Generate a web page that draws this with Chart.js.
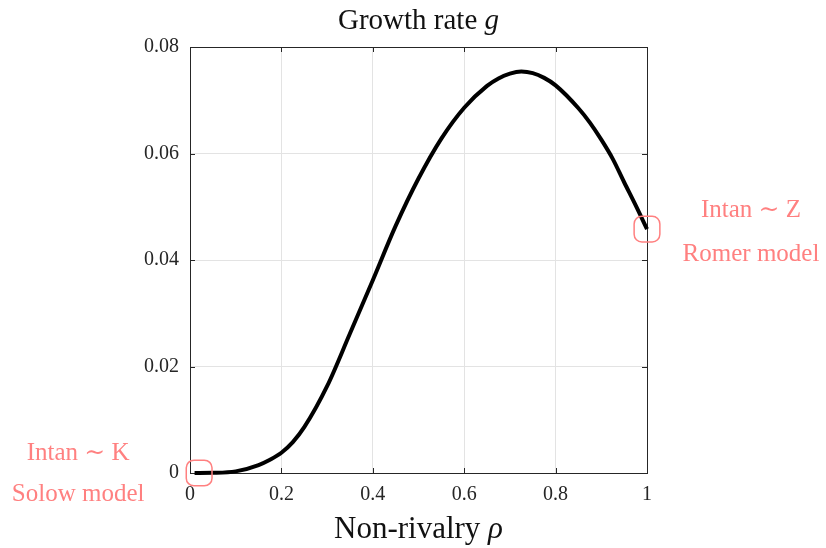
<!DOCTYPE html>
<html>
<head>
<meta charset="utf-8">
<title>Growth rate vs non-rivalry</title>
<script src="https://cdn.jsdelivr.net/npm/chart.js@4.4.1/dist/chart.umd.min.js"></script>
<style>
  html, body { margin: 0; padding: 0; background: #fff; }
  #wrap { width: 826px; height: 548px; }
</style>
</head>
<body>
<div id="wrap"><canvas id="growth"></canvas></div>
<script>
// growth rate g as a function of non-rivalry rho
const rho = [0.01, 0.05, 0.10, 0.15, 0.175, 0.20, 0.225, 0.25, 0.30, 0.35, 0.40, 0.45, 0.50, 0.55, 0.60,
             0.65, 0.675, 0.70, 0.725, 0.75, 0.775, 0.80, 0.85, 0.875, 0.90, 0.925, 0.95, 0.975, 1.00];
const growth = [0, 0.00003, 0.0003, 0.0015, 0.0025, 0.0038, 0.0058, 0.0086, 0.0163, 0.0262, 0.0362, 0.0464, 0.0553, 0.0628, 0.0686,
                0.0727, 0.0741, 0.0750, 0.0754, 0.0751, 0.0742, 0.0728, 0.0685, 0.0658, 0.0626, 0.0590, 0.0546, 0.0503, 0.0458];

// the two limiting cases that get highlighted
const caseRho = [0.02, 1.0];
const caseG = [0, 0.0458];
const caseLabels = [['Intan \u223C K', 'Solow model'], ['Intan \u223C Z', 'Romer model']];

const xTicks = [0, 0.2, 0.4, 0.6, 0.8, 1];
const yTicks = [0, 0.02, 0.04, 0.06, 0.08];

const SERIF = '"Liberation Serif", "DejaVu Serif", serif';
const PINK = '#ff8080';

const fmt = v => String(parseFloat(Number(v).toFixed(2)));

// box around the axes with small inward ticks, MATLAB style
const axesBox = {
  id: 'axesBox',
  beforeDatasetsDraw(chart) {
    const { ctx, chartArea: a, scales } = chart;
    ctx.save();
    ctx.strokeStyle = '#262626';
    ctx.lineWidth = 1;
    ctx.beginPath();
    xTicks.forEach(t => {
      const px = Math.round(scales.x.getPixelForValue(t)) + 0.5;
      ctx.moveTo(px, a.bottom); ctx.lineTo(px, a.bottom - 5);
      ctx.moveTo(px, a.top); ctx.lineTo(px, a.top + 5);
    });
    yTicks.forEach(t => {
      const py = Math.round(scales.y.getPixelForValue(t)) + 0.5;
      ctx.moveTo(a.left, py); ctx.lineTo(a.left + 5, py);
      ctx.moveTo(a.right, py); ctx.lineTo(a.right - 5, py);
    });
    ctx.stroke();
    ctx.strokeRect(Math.round(a.left) + 0.5, Math.round(a.top) + 0.5,
                   Math.round(a.right - a.left), Math.round(a.bottom - a.top));
    ctx.restore();
  },
  afterDraw(chart) {
    const { ctx, chartArea: a, scales } = chart;
    const cx = (a.left + a.right) / 2;
    ctx.save();
    ctx.fillStyle = '#111';
    ctx.textBaseline = 'alphabetic';

    // title with italic g
    drawMixed(ctx, cx, 29, [['Growth rate ', '29px ' + SERIF], ['g', 'italic 29px ' + SERIF]]);
    // x axis title with italic rho
    drawMixed(ctx, cx, 538, [['Non-rivalry ', '31px ' + SERIF], ['\u03C1', 'italic 31px ' + SERIF]]);

    // case annotations
    ctx.fillStyle = PINK;
    ctx.font = '25px ' + SERIF;
    ctx.textAlign = 'center';
    const lx = scales.x.getPixelForValue(caseRho[0]) - 121;
    const ly = scales.y.getPixelForValue(caseG[0]);
    ctx.fillText(caseLabels[0][0], lx, ly - 13);
    ctx.fillText(caseLabels[0][1], lx, ly + 28);
    const rx = scales.x.getPixelForValue(caseRho[1]) + 104;
    const ry = scales.y.getPixelForValue(caseG[1]);
    ctx.fillText(caseLabels[1][0], rx, ry - 12);
    ctx.fillText(caseLabels[1][1], rx, ry + 32);
    ctx.restore();
  }
};

function drawMixed(ctx, cx, y, parts) {
  let total = 0;
  parts.forEach(([t, f]) => { ctx.font = f; total += ctx.measureText(t).width; });
  let x = cx - total / 2;
  ctx.textAlign = 'left';
  parts.forEach(([t, f]) => {
    ctx.font = f;
    ctx.fillText(t, x, y);
    x += ctx.measureText(t).width;
  });
}

new Chart(document.getElementById('growth'), {
  type: 'scatter',
  data: {
    datasets: [
      {
        data: caseRho.map((x, i) => ({ x, y: caseG[i] })),
        pointStyle: 'rectRounded',
        pointRadius: 15,
        pointHoverRadius: 15,
        borderColor: PINK,
        backgroundColor: 'rgba(0,0,0,0)',
        borderWidth: 1.5,
        showLine: false,
        clip: false,
        order: 0
      },
      {
        data: rho.map((x, i) => ({ x, y: growth[i] })),
        showLine: true,
        borderColor: '#000',
        borderWidth: 4,
        pointRadius: 0,
        cubicInterpolationMode: 'monotone',
        clip: false,
        order: 1
      }
    ]
  },
  options: {
    responsive: true,
    maintainAspectRatio: false,
    animation: false,
    events: [],
    layout: { padding: { left: 0, right: 179, top: 47, bottom: 0 } },
    plugins: {
      legend: { display: false },
      title: { display: false },
      tooltip: { enabled: false }
    },
    scales: {
      x: {
        type: 'linear',
        min: 0,
        max: 1,
        afterBuildTicks: s => { s.ticks = xTicks.map(v => ({ value: v })); },
        afterFit: s => { s.height = 75; },
        border: { display: false },
        grid: { color: '#e3e3e3', drawTicks: false },
        ticks: {
          padding: 10,
          color: '#262626',
          font: { family: SERIF, size: 20 },
          maxRotation: 0,
          callback: fmt
        }
      },
      y: {
        type: 'linear',
        min: 0,
        max: 0.08,
        afterBuildTicks: s => { s.ticks = yTicks.map(v => ({ value: v })); },
        afterFit: s => { s.width = 190; },
        border: { display: false },
        grid: { color: '#e3e3e3', drawTicks: false },
        ticks: {
          padding: 11,
          color: '#262626',
          font: { family: SERIF, size: 20 },
          callback: fmt
        }
      }
    }
  },
  plugins: [axesBox]
});
</script>
</body>
</html>
